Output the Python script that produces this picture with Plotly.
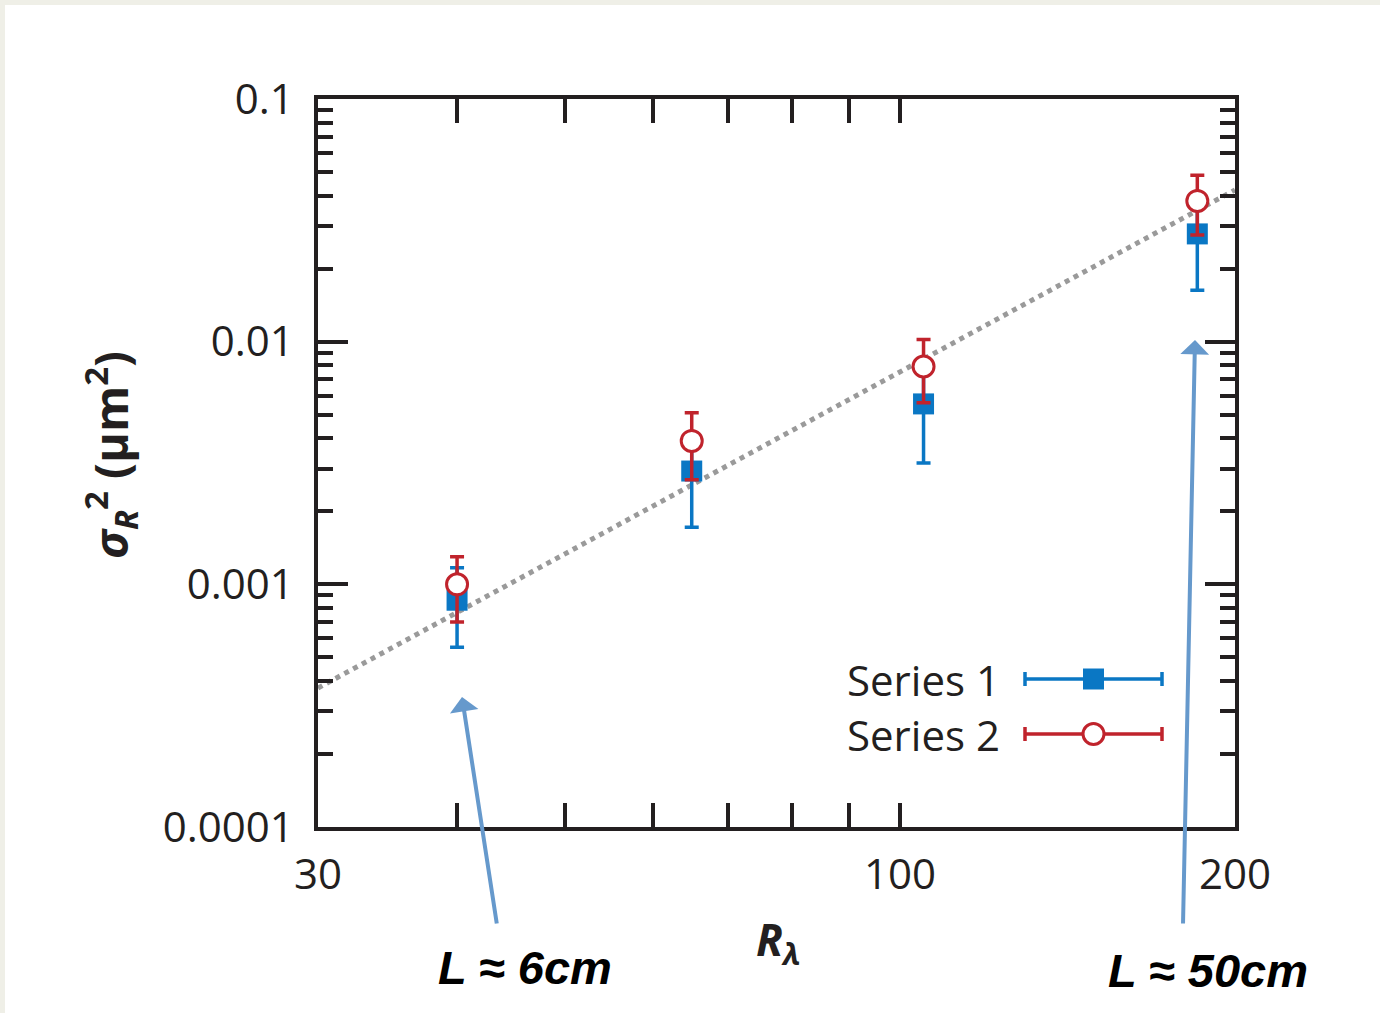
import plotly.graph_objects as go

# ---- data ----
r_lambda = [40, 65, 105, 185]
series1 = [0.00086, 0.00293, 0.00554, 0.0278]
series1_err = [0.00031, 0.00121, 0.00238, 0.0115]
series2 = [0.0010, 0.0039, 0.0079, 0.038]
series2_err = [0.0003, 0.0012, 0.0023, 0.0105]
fit_x = [30, 200]
fit_y = [0.000374, 0.0422]

x_tickvals = [30, 100, 200]
x_ticktext = ["30", "100", "200"]
x_minorvals = [40, 50, 60, 70, 80, 90]
y_tickvals = [0.0001, 0.001, 0.01, 0.1]
y_ticktext = ["0.0001", "0.001", "0.01", "0.1"]

BLUE = "#0a77c4"
RED = "#c0232c"
INK = "#231f20"
ARROW = "#6699cc"
FONT = "Open Sans"

W, H = 1380, 1013
L, R, T, B = 318, 1235, 99, 827
pw, ph = R - L, B - T


def px(x):
    return (x - L) / pw


def py(y):
    return (B - y) / ph


fig = go.Figure()

fig.add_trace(go.Scatter(
    x=fit_x, y=fit_y, mode="lines",
    line=dict(color="#9a9a9a", width=5, dash="dot"),
    showlegend=False, hoverinfo="skip"))

fig.add_trace(go.Scatter(
    x=r_lambda, y=series1, mode="markers", name="Series 1",
    marker=dict(symbol="square", size=21, color=BLUE),
    error_y=dict(type="data", array=series1_err, color=BLUE, thickness=3.5, width=7),
    showlegend=False))

fig.add_trace(go.Scatter(
    x=r_lambda, y=series2, mode="markers", name="Series 2",
    marker=dict(symbol="circle", size=21, color="white", line=dict(color=RED, width=3)),
    error_y=dict(type="data", array=series2_err, color=RED, thickness=3.5, width=7),
    showlegend=False))

# legend samples on an invisible overlay axis
leg_rows = [(py(679), BLUE, dict(symbol="square", size=21, color=BLUE), "Series 1"),
            (py(734), RED, dict(symbol="circle", size=21, color="white", line=dict(color=RED, width=3)), "Series 2")]
x0s, x1s = px(1025), px(1162)
for yy, col, mk, name in leg_rows:
    fig.add_trace(go.Scatter(
        x=[(x0s + x1s) / 2], y=[yy], mode="markers", xaxis="x2", yaxis="y2",
        marker=mk,
        error_x=dict(type="constant", value=(x1s - x0s) / 2, color=col, thickness=3.5, width=7),
        showlegend=False, hoverinfo="skip"))
    fig.add_annotation(x=px(1002), y=yy, xref="paper", yref="paper", text=name,
                       showarrow=False, xanchor="right", yanchor="middle",
                       font=dict(family=FONT, size=42, color=INK))

axis_common = dict(showline=True, linecolor=INK, linewidth=3.5, mirror="ticks",
                   ticks="inside", tickcolor=INK, tickwidth=3.5, showgrid=False,
                   zeroline=False,
                   tickfont=dict(family=FONT, size=42, color=INK))

fig.update_layout(
    width=W, height=H,
    margin=dict(l=L, r=W - R, t=T, b=H - B),
    paper_bgcolor="#efefe7", plot_bgcolor="white",
    xaxis=dict(type="log", range=[1.47712, 2.30103], tickvals=x_tickvals, ticktext=x_ticktext,
               ticklen=24, ticklabelstandoff=8,
               minor=dict(ticks="inside", ticklen=24, tickwidth=3.5, tickcolor=INK,
                          tickvals=x_minorvals, showgrid=False),
               **axis_common),
    yaxis=dict(type="log", range=[-4, -1], tickvals=y_tickvals, ticktext=y_ticktext,
               ticklen=30, ticklabelstandoff=12,
               minor=dict(ticks="inside", ticklen=15, tickwidth=3.5, tickcolor=INK,
                          dtick="D1", showgrid=False),
               **axis_common),
    xaxis2=dict(overlaying="x", range=[0, 1], visible=False, fixedrange=True),
    yaxis2=dict(overlaying="y", range=[0, 1], visible=False, fixedrange=True),
    showlegend=False,
)

# white page inside beige border
fig.add_shape(type="rect", xref="paper", yref="paper", layer="below",
              x0=(5 - L) / pw, x1=(W - L) / pw, y0=(B - H) / ph, y1=(B - 5) / ph,
              fillcolor="white", line=dict(width=0))

# axis titles
fig.add_annotation(x=px(110), y=py(455), xref="paper", yref="paper", textangle=-90,
                   xanchor="center", yanchor="middle",
                   text="<i>σ<sub>R</sub></i><sup>2</sup> (μm<sup>2</sup>)", showarrow=False,
                   font=dict(family=FONT, size=47, color=INK, weight="bold"))
fig.add_annotation(x=px(778), y=py(942), xref="paper", yref="paper",
                   xanchor="center", yanchor="middle",
                   text="<i>R<sub>λ</sub></i>", showarrow=False,
                   font=dict(family=FONT, size=44, color=INK, weight="bold"))

# arrows
fig.add_annotation(x=px(462), y=py(697), xref="paper", yref="paper", text="",
                   showarrow=True, ax=35, ay=228, arrowcolor=ARROW, arrowwidth=4,
                   arrowhead=1, arrowsize=1.2)
fig.add_annotation(x=px(1195), y=py(340), xref="paper", yref="paper", text="",
                   showarrow=True, ax=-12, ay=585, arrowcolor=ARROW, arrowwidth=4,
                   arrowhead=1, arrowsize=1.2)

fig.add_annotation(x=px(525), y=py(967), xref="paper", yref="paper",
                   xanchor="center", yanchor="middle",
                   text="<b><i>L ≈ 6cm</i></b>", showarrow=False,
                   font=dict(family="Liberation Sans", size=47, color="black"))
fig.add_annotation(x=px(1208), y=py(970), xref="paper", yref="paper",
                   xanchor="center", yanchor="middle",
                   text="<b><i>L ≈ 50cm</i></b>", showarrow=False,
                   font=dict(family="Liberation Sans", size=47, color="black"))

fig.write_html("out.html")
